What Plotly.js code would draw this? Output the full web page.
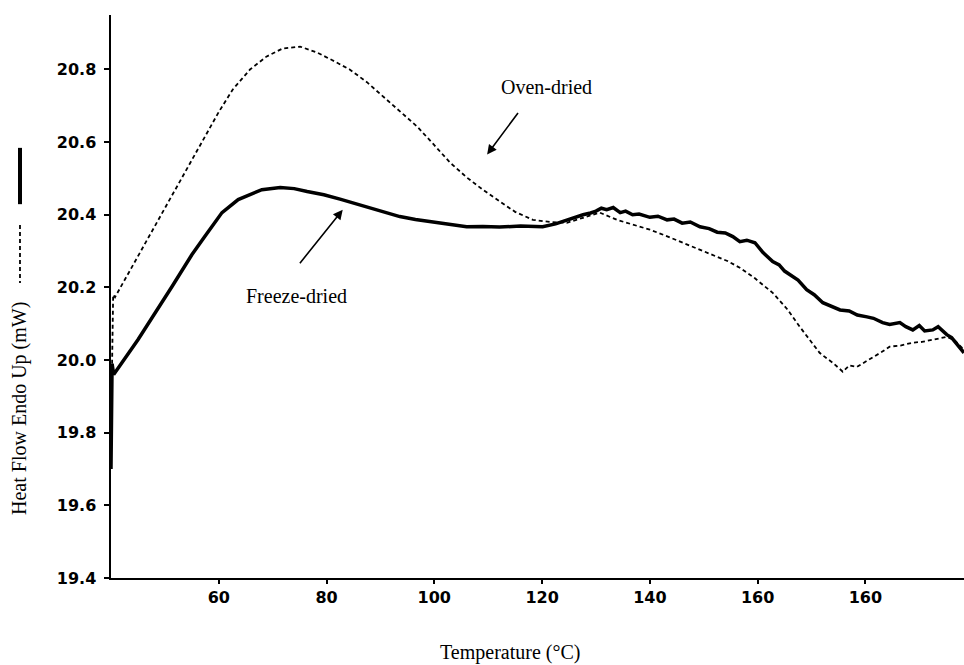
<!DOCTYPE html>
<html>
<head>
<meta charset="utf-8">
<script src="https://cdn.plot.ly/plotly-3.0.1.min.js"></script>
<style>html,body{margin:0;padding:0;background:#fff;}#chart{width:964px;height:665px;}</style>
</head>
<body>
<div id="chart"></div>
<script>
// Freeze-dried (solid)
var freezeTemp = [40.0,40.2,40.5,40.74,45.0,51.3,55.0,57.4,60.6,63.6,68.0,71.4,74.0,76.4,79.5,82.5,85.0,87.5,90.5,93.6,96.5,99.7,103.0,106.0,109.0,112.1,116.0,120.1,122.5,124.6,126.0,127.6,129.0,130.0,131.0,132.0,133.2,134.5,135.5,136.8,138.0,140.0,141.5,143.2,144.5,146.0,147.5,149.3,151.0,152.5,154.0,155.4,156.7,158.0,159.5,161.0,162.8,164.0,165.0,166.0,167.5,169.1,170.5,172.1,173.5,175.3,177.0,178.5,180.3,181.5,183.2,184.5,186.4,187.5,188.8,190.0,191.0,192.5,193.5,195.1,196.0,197.0,198.3];
var freezeFlow = [19.70,19.99,19.96,19.965,20.056,20.202,20.29,20.340,20.406,20.442,20.469,20.475,20.472,20.464,20.455,20.443,20.432,20.421,20.407,20.395,20.387,20.381,20.374,20.367,20.368,20.366,20.369,20.367,20.375,20.386,20.392,20.400,20.405,20.410,20.418,20.414,20.420,20.406,20.410,20.400,20.402,20.393,20.396,20.386,20.388,20.377,20.380,20.367,20.362,20.352,20.350,20.340,20.326,20.330,20.323,20.296,20.271,20.262,20.245,20.235,20.220,20.194,20.180,20.158,20.150,20.138,20.135,20.124,20.119,20.115,20.103,20.098,20.103,20.092,20.083,20.095,20.080,20.083,20.092,20.070,20.062,20.045,20.020];

// Oven-dried (dashed)
var ovenTemp = [40.2,40.4,40.74,50.0,56.5,60.0,62.6,65.8,68.9,71.9,75.1,78.2,81.0,84.3,87.5,90.5,93.6,96.8,99.8,102.9,106.0,109.0,112.2,115.0,118.3,121.5,124.6,127.5,130.7,133.9,137.0,140.0,143.0,146.1,149.3,152.4,154.5,156.7,159.5,162.8,165.5,167.8,169.5,171.5,172.8,174.0,175.8,177.0,178.4,180.0,181.4,183.0,184.5,186.5,188.8,190.5,192.5,195.1,196.5,198.3];
var ovenFlow = [19.99,20.18,20.173,20.419,20.591,20.683,20.745,20.800,20.836,20.858,20.863,20.847,20.826,20.800,20.765,20.725,20.685,20.643,20.595,20.544,20.503,20.469,20.436,20.408,20.386,20.380,20.378,20.392,20.406,20.386,20.372,20.359,20.342,20.323,20.305,20.285,20.272,20.254,20.225,20.185,20.140,20.092,20.058,20.020,20.005,19.992,19.968,19.985,19.981,19.995,20.009,20.022,20.037,20.040,20.048,20.050,20.056,20.064,20.055,20.028];

var xTickVals = [60,80,100,120,140,160,180];
var xTickText = ["60","80","100","120","140","160","160"];
var yTickVals = [19.4,19.6,19.8,20.0,20.2,20.4,20.6,20.8];

var serif = "Liberation Serif, Times New Roman, serif";

var traces = [
  {x: ovenTemp, y: ovenFlow, mode: "lines", line: {color: "#000", width: 1.8, dash: "4px,3px"}, hoverinfo: "skip"},
  {x: freezeTemp, y: freezeFlow, mode: "lines", line: {color: "#000", width: 3.5}, hoverinfo: "skip"}
];

var layout = {
  width: 964, height: 665,
  margin: {l: 111, r: 0, t: 15, b: 87},
  paper_bgcolor: "#fff", plot_bgcolor: "#fff",
  showlegend: false,
  xaxis: {
    range: [40, 198.3], showgrid: false, zeroline: false,
    showline: true, linecolor: "#000", linewidth: 2,
    tickmode: "array", tickvals: xTickVals, ticktext: xTickText,
    ticks: "outside", ticklen: 4, tickwidth: 2, tickcolor: "#000",
    tickfont: {family: "DejaVu Sans", size: 16, weight: "bold", color: "#000"}
  },
  yaxis: {
    range: [19.4, 20.95], showgrid: false, zeroline: false,
    showline: true, linecolor: "#000", linewidth: 2.5,
    tickmode: "array", tickvals: yTickVals, tickformat: ".1f",
    ticks: "outside", ticklen: 5, tickwidth: 2, tickcolor: "#000",
    ticklabelstandoff: 4,
    tickfont: {family: "DejaVu Sans", size: 16, weight: "bold", color: "#000"}
  },
  shapes: [
    {type: "line", xref: "paper", yref: "paper", x0: -0.1067, x1: -0.1067, y0: 0.764, y1: 0.664, line: {color: "#000", width: 4}},
    {type: "line", xref: "paper", yref: "paper", x0: -0.1067, x1: -0.1067, y0: 0.627, y1: 0.524, line: {color: "#000", width: 1.8, dash: "4px,3px"}}
  ],
  annotations: [
    {xref: "paper", yref: "paper", x: -0.1067, y: 0.302, text: "Heat Flow Endo Up (mW)", textangle: -90, showarrow: false,
     font: {family: serif, size: 20, color: "#000"}, xanchor: "center", yanchor: "middle"},
    {xref: "paper", yref: "paper", x: 0.468, y: 0, yshift: -74, text: "Temperature (°C)", showarrow: false,
     font: {family: serif, size: 20, color: "#000"}, xanchor: "center", yanchor: "middle"},
    {x: 120.9, y: 20.753, text: "Oven-dried", showarrow: false, font: {family: serif, size: 20, color: "#000"}, xanchor: "center", yanchor: "middle"},
    {x: 74.5, y: 20.177, text: "Freeze-dried", showarrow: false, font: {family: serif, size: 20, color: "#000"}, xanchor: "center", yanchor: "middle"},
    {x: 109.8, y: 20.566, text: "", showarrow: true, ax: 32, ay: -43, arrowhead: 2, arrowsize: 1.2, arrowwidth: 1.6, arrowcolor: "#000"},
    {x: 83.0, y: 20.414, text: "", showarrow: true, ax: -44, ay: 55, arrowhead: 2, arrowsize: 1.2, arrowwidth: 1.6, arrowcolor: "#000"}
  ]
};

Plotly.newPlot("chart", traces, layout, {staticPlot: true, displayModeBar: false});
</script>
</body>
</html>
